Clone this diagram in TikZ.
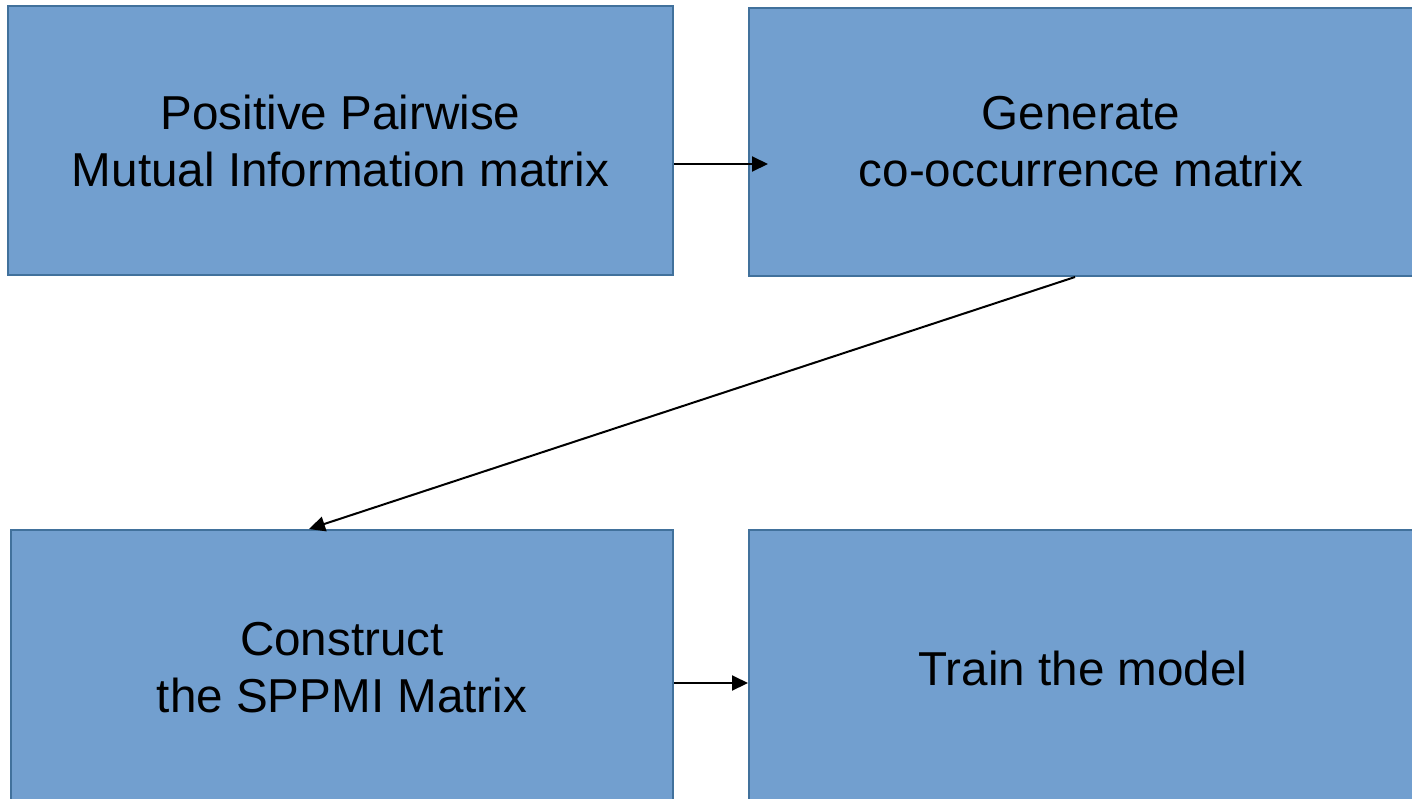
\documentclass[tikz,border=0pt]{standalone}
\usepackage{fontspec}
\setmainfont{Liberation Sans}
\usetikzlibrary{arrows.meta}

\tikzset{
  stepbox/.style={draw={rgb,255:red,65;green,113;blue,156}, line width=2pt,
    fill={rgb,255:red,114;green,159;blue,207}, inner sep=0pt, align=center,
    font=\fontsize{47.6}{57}\selectfont},
  flow/.style={draw=black, line width=2pt, -{Triangle[length=16pt,width=15pt]}}
}

\begin{document}
\begin{tikzpicture}[x=1pt,y=1pt,yscale=-1,xscale=1]
\useasboundingbox (0,0) rectangle (1412,798);

%Shape: Rectangle [id:ppmi]
\node [stepbox, minimum width=665, minimum height=269] (ppmi) at (340.5,140.5) {Positive Pairwise\\Mutual Information matrix};
%Shape: Rectangle [id:gen]
\node [stepbox, minimum width=664, minimum height=268] (gen) at (1081,142) {Generate\\co-occurrence matrix};
%Shape: Rectangle [id:sppmi]
\node [stepbox, minimum width=662, minimum height=276] (sppmi) at (342,668) {Construct\\the SPPMI Matrix};
%Shape: Rectangle [id:train]
\node [stepbox, minimum width=668, minimum height=276] (train) at (1083,668) {Train the model};

%Straight Lines
\coordinate (tipgen) at (768,164);
\draw [flow] (ppmi.east |- tipgen) -- (tipgen);
%Straight Lines
\draw [flow] ([xshift=-6pt]gen.south) -- ([xshift=-33pt]sppmi.north);
%Straight Lines
\coordinate (tiptrain) at (0,683);
\draw [flow] (sppmi.east |- tiptrain) -- (train.west |- tiptrain);
\end{tikzpicture}
\end{document}
